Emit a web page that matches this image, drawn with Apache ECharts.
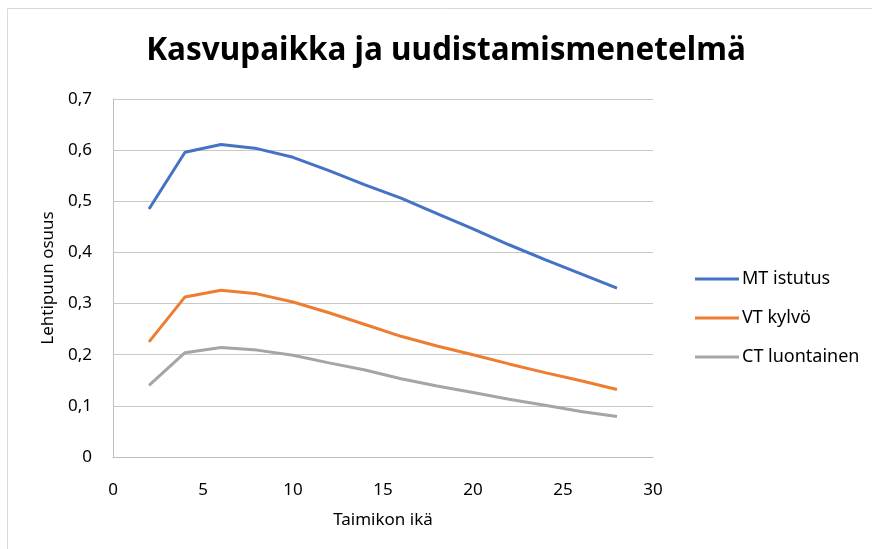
<!DOCTYPE html>
<html>
<head>
<meta charset="utf-8">
<script src="https://cdn.jsdelivr.net/npm/echarts@6/dist/echarts.min.js"></script>
<style>
    html, body { margin: 0; padding: 0; background: #fff; }
    #chartmain { width: 872px; height: 549px; }
</style>
</head>
<body>
<div id="chartmain"></div>
<script>
// Taimikon ikä (x)
var ages = [2, 4, 6, 8, 10, 12, 14, 16, 18, 20, 22, 24, 26, 28];
// Lehtipuun osuus per sarja
var mtIstutus = [0.485, 0.596, 0.611, 0.603, 0.586, 0.560, 0.532, 0.506, 0.476, 0.446, 0.415, 0.386, 0.358, 0.330];
var vtKylvo = [0.225, 0.313, 0.326, 0.319, 0.303, 0.282, 0.259, 0.236, 0.217, 0.200, 0.182, 0.165, 0.149, 0.132];
var ctLuontainen = [0.140, 0.204, 0.214, 0.209, 0.199, 0.184, 0.170, 0.153, 0.139, 0.126, 0.113, 0.101, 0.089, 0.079];
var seriesNames = ['MT istutus', 'VT kylvö', 'CT luontainen'];
var seriesColors = ['#4472C4', '#ED7D31', '#A5A5A5'];

function pairs(values) {
    var out = [];
    for (var i = 0; i < ages.length; i++) {
        out.push([ages[i], values[i]]);
    }
    return out;
}

var font = 'Noto Sans';
var myChart = echarts.init(document.getElementById('chartmain'));
var seriesData = [mtIstutus, vtKylvo, ctLuontainen];
var series = [];
for (var s = 0; s < seriesNames.length; s++) {
    series.push({
        name: seriesNames[s],
        type: 'line',
        symbol: 'none',
        color: seriesColors[s],
        lineStyle: { width: 3, color: seriesColors[s] },
        data: pairs(seriesData[s])
    });
}

var option = {
    animation: false,
    backgroundColor: '#fff',
    graphic: [{
        type: 'rect',
        shape: { x: 7.5, y: 8.5, width: 900, height: 600 },
        style: { fill: 'none', stroke: '#d9d9d9', lineWidth: 1 }
    }],
    title: {
        text: 'Kasvupaikka ja uudistamismenetelmä',
        left: 441,
        textAlign: 'center',
        top: 30,
        textStyle: { fontFamily: font, fontWeight: 'bold', fontSize: 31.5, color: '#000' }
    },
    legend: {
        orient: 'vertical',
        left: 695,
        top: 270,
        padding: 0,
        itemWidth: 44,
        itemHeight: 3,
        itemGap: 21,
        icon: 'rect',
        data: seriesNames,
        textStyle: { fontFamily: font, fontSize: 18, color: '#000', lineHeight: 18, padding: [0, 0, 0, -2] }
    },
    grid: { left: 113, top: 99, width: 540, height: 358, containLabel: false },
    xAxis: {
        type: 'value',
        min: 0,
        max: 30,
        interval: 5,
        name: 'Taimikon ikä',
        nameLocation: 'middle',
        nameGap: 55,
        nameTextStyle: { fontFamily: font, fontSize: 17, color: '#000' },
        axisLine: { lineStyle: { color: '#bfbfbf', width: 1 } },
        axisTick: { show: false },
        axisLabel: { fontFamily: font, fontSize: 17, color: '#000', margin: 25 },
        splitLine: { show: false }
    },
    yAxis: {
        type: 'value',
        min: 0,
        max: 0.7,
        interval: 0.1,
        name: 'Lehtipuun osuus',
        nameLocation: 'middle',
        nameGap: 56,
        nameTextStyle: { fontFamily: font, fontSize: 17, color: '#000' },
        axisLine: { show: true, lineStyle: { color: '#bfbfbf', width: 1 } },
        axisTick: { show: false },
        axisLabel: {
            fontFamily: font, fontSize: 17, color: '#000', margin: 21,
            formatter: function (value) {
                return String(Math.round(value * 10) / 10).replace('.', ',');
            }
        },
        splitLine: { lineStyle: { color: '#c8c8c8', width: 1 } }
    },
    series: series
};
myChart.setOption(option);
</script>
</body>
</html>
